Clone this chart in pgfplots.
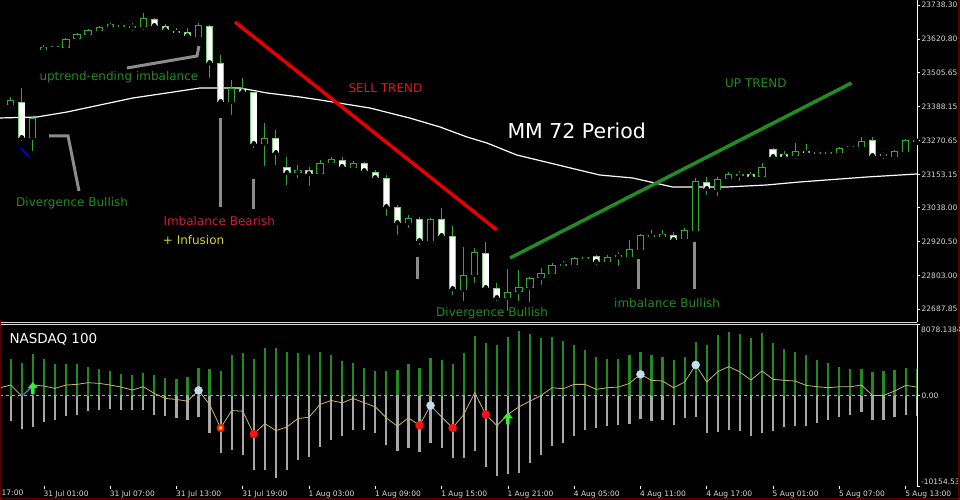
\documentclass[border=0pt]{standalone}
\usepackage{pgfplots}
\usepackage{pgfplotstable}
\pgfplotsset{compat=1.18}
\usepackage{fontspec}
\setmainfont{DejaVu Sans}

\definecolor{cgreen}{HTML}{34A834}
\definecolor{hgreen}{HTML}{1E8C1E}
\definecolor{hgray}{HTML}{A8A8A8}
\definecolor{sig}{HTML}{C8B46E}
\definecolor{tgreen}{HTML}{238B23}
\definecolor{tred}{HTML}{E01818}
\definecolor{tcrim}{HTML}{D41C3C}
\definecolor{tyel}{HTML}{D4D42A}
\definecolor{lblue}{HTML}{BFDDEF}
\definecolor{dotred}{HTML}{FF1010}
\definecolor{agreen}{HTML}{33EE33}
\definecolor{pgray}{HTML}{8C8C8C}
\definecolor{lbl}{HTML}{D8D8D8}
\definecolor{frame}{HTML}{5A0000}

\pgfdeclareplotmark{uparr}{%
  \pgfpathmoveto{\pgfqpoint{-5pt}{0pt}}%
  \pgfpathlineto{\pgfqpoint{0pt}{6pt}}%
  \pgfpathlineto{\pgfqpoint{5pt}{0pt}}%
  \pgfpathlineto{\pgfqpoint{1.8pt}{0pt}}%
  \pgfpathlineto{\pgfqpoint{1.8pt}{-6pt}}%
  \pgfpathlineto{\pgfqpoint{-1.8pt}{-6pt}}%
  \pgfpathlineto{\pgfqpoint{-1.8pt}{0pt}}%
  \pgfpathclose
  \pgfusepathqfill}

% bullish candles (hollow): index open high low close
\pgfplotstableread{
i o h l c
0 23392.8 23420.4 23385.9 23410.1
2 23278.8 23347.9 23226.9 23347.9
3 23582.8 23600.1 23575.9 23593.2
4 23592.0 23603.6 23582.8 23595.0
5 23589.7 23624.3 23575.9 23620.8
6 23620.8 23641.6 23610.5 23638.1
7 23634.7 23655.4 23631.2 23651.9
8 23648.5 23665.8 23641.6 23662.3
9 23662.3 23676.1 23648.5 23672.7
10 23664.0 23676.1 23651.9 23668.0
11 23660.5 23676.1 23641.6 23664.5
12 23662.3 23710.7 23645.0 23693.4
17 23627.8 23676.1 23620.8 23669.2
20 23403.2 23479.2 23351.3 23451.5
23 23258.0 23330.6 23175.1 23278.8
26 23157.8 23185.5 23133.6 23168.2
28 23154.4 23202.7 23144.0 23192.4
29 23192.4 23213.1 23185.5 23206.2
31 23175.1 23199.3 23164.7 23192.4
36 22985.1 23012.7 22960.9 23002.3
38 22922.8 23002.3 22919.4 22998.9
41 22753.5 22902.1 22708.6 22805.4
42 22805.4 22898.7 22770.8 22884.8
45 22725.9 22826.1 22674.1 22746.6
46 22746.6 22822.6 22708.6 22763.9
47 22760.4 22798.5 22705.2 22795.0
48 22795.0 22829.6 22763.9 22812.3
49 22808.8 22846.8 22801.9 22839.9
50 22838.0 22853.7 22822.6 22842.0
51 22839.9 22867.6 22833.0 22864.1
52 22860.7 22871.0 22850.3 22867.6
54 22850.3 22874.5 22843.4 22867.6
55 22867.6 22884.8 22829.6 22874.5
56 22867.6 22926.3 22857.2 22895.2
57 22891.8 22947.0 22888.3 22943.6
58 22938.0 22960.9 22936.7 22942.0
59 22936.7 22960.9 22933.2 22947.0
61 22929.8 22967.8 22915.9 22960.9
62 22957.4 23140.5 22954.0 23130.2
64 23099.1 23144.0 23071.4 23137.1
65 23137.1 23161.3 23126.7 23154.4
66 23149.0 23164.7 23123.3 23153.0
68 23144.0 23192.4 23133.6 23178.6
71 23216.6 23261.5 23199.3 23233.8
73 23225.0 23237.3 23216.6 23229.0
74 23225.0 23237.3 23213.1 23229.0
75 23226.9 23247.7 23220.0 23244.2
76 23246.0 23254.6 23240.8 23250.0
77 23247.7 23282.2 23244.2 23268.4
79 23218.0 23230.4 23199.3 23222.0
80 23213.1 23237.3 23209.6 23233.8
81 23230.4 23275.3 23230.4 23271.8
82 23266.4 23275.3 23261.5 23270.4
}\bull

% bearish candles (white): index open high low close
\pgfplotstableread{
i o h l c
1 23403.2 23451.5 23261.5 23278.8
13 23690.0 23693.4 23662.3 23665.8
14 23665.8 23672.7 23645.0 23651.9
15 23648.5 23658.8 23634.7 23641.6
16 23645.0 23658.8 23620.8 23631.2
18 23665.8 23669.2 23479.2 23537.9
19 23537.9 23565.6 23399.7 23403.2
21 23451.5 23486.1 23427.3 23437.7
22 23437.7 23437.7 23237.3 23258.0
24 23278.8 23306.4 23178.6 23226.9
25 23178.6 23213.1 23109.4 23157.8
27 23168.2 23178.6 23106.0 23154.4
30 23202.7 23213.1 23175.1 23178.6
32 23192.4 23195.8 23161.3 23164.7
33 23161.3 23168.2 23126.7 23140.5
34 23140.5 23150.9 23002.3 23040.3
35 23040.3 23047.2 22936.7 22985.1
37 22998.9 23005.8 22902.1 22922.8
39 22998.9 23036.9 22933.2 22940.1
40 22940.1 22974.7 22729.4 22757.0
43 22881.4 22919.4 22753.5 22760.4
44 22760.4 22777.7 22708.6 22725.9
53 22871.0 22874.5 22833.0 22850.3
60 22943.6 22954.0 22915.9 22926.3
63 23126.7 23144.0 23074.9 23102.5
67 23154.4 23161.3 23140.5 23144.0
69 23240.8 23244.2 23202.7 23213.1
70 23223.5 23233.8 23199.3 23213.1
72 23233.8 23258.0 23223.5 23226.9
78 23271.8 23282.2 23213.1 23216.6
}\bear

% indicator: index, green (up) bar, gray (down) bar, signal line
\pgfplotstableread{
i g r s
0 4114 -2868 1208
1 3661 -3736 -38
2 4680 -3510 1208
3 4114 -2981 1094
4 3548 -2755 830
5 3623 -2302 1208
6 3548 -2113 1283
7 3246 -1736 1472
8 3057 -1547 1396
9 2793 -1472 1208
10 2491 -1547 981
11 2340 -1623 642
12 2604 -1547 1019
13 2302 -2113 264
14 2038 -2227 -302
15 1925 -2491 -415
16 2113 -2755 -604
17 3095 -2415 604
18 3057 -4189 -981
19 2793 -6454 -3623
20 4567 -6152 -1660
21 4793 -6642 -1736
22 4114 -8341 -4302
23 5321 -8341 -3132
24 5359 -9284 -3925
25 4982 -8341 -3510
26 4868 -7208 -2566
27 4567 -6906 -2415
28 4944 -5812 -981
29 4567 -5019 -528
30 3925 -4567 -793
31 3661 -3887 -302
32 3095 -3812 -793
33 2793 -4189 -1245
34 2793 -5510 -2491
35 2906 -6265 -3434
36 3548 -5887 -2491
37 3095 -6340 -3321
38 4227 -5321 -1094
39 4000 -5887 -2378
40 3623 -7020 -3623
41 4793 -7020 -2113
42 6680 -6265 340
43 5925 -7963 -2113
44 5736 -9020 -3359
45 6567 -8793 -2113
46 7246 -8642 -1245
47 6944 -7586 -604
48 6491 -6642 38
49 6567 -5699 906
50 6114 -5321 793
51 5736 -4567 1283
52 5170 -3887 1283
53 4416 -3623 717
54 4189 -3359 906
55 4189 -3246 981
56 4567 -3132 1396
57 4982 -2604 2415
58 4567 -2868 1736
59 4416 -2755 1660
60 4038 -3246 906
61 4416 -2491 1547
62 6001 -2378 3472
63 5736 -4189 1547
64 6831 -4114 2717
65 7208 -3887 3283
66 6944 -4000 2680
67 6454 -4567 1774
68 7057 -4189 2793
69 5925 -4000 1849
70 5246 -3510 1736
71 4982 -3359 1660
72 4567 -3359 1170
73 4038 -3057 1019
74 3661 -2755 906
75 3283 -2378 1019
76 3057 -2113 1019
77 3057 -1849 1208
78 2717 -2680 38
79 2793 -2755 38
80 2868 -2378 528
81 3170 -2113 1170
82 3057 -2227 981
}\hist

\begin{document}
\begin{tikzpicture}
\fill[black] (0pt,0pt) rectangle (960pt,500pt);
\useasboundingbox (0pt,0pt) rectangle (960pt,500pt);

% ---------------- price panel ----------------
\begin{axis}[
  at={(0pt,500pt)}, anchor=north west, scale only axis,
  width=917pt, height=322pt,
  xmin=-0.97, xmax=82.03, ymin=22642.9, ymax=23755.6,
  scaled ticks=false,
  separate axis lines,
  axis x line*=bottom, axis y line*=right,
  x axis line style={draw=lbl, line width=0.8pt},
  y axis line style={draw=white, line width=0.8pt},
  xtick=\empty,
  ytick={22687.85,22803.00,22920.50,23038.00,23153.15,23270.65,23388.15,23505.65,23620.80,23738.30},
  yticklabels={22687.85,22803.00,22920.50,23038.00,23153.15,23270.65,23388.15,23505.65,23620.80,23738.30},
  tick align=outside, major tick length=3pt,
  ytick style={draw=white, line width=0.6pt},
  yticklabel style={font=\fontsize{7.5}{9}\selectfont, text=lbl, anchor=west, inner sep=0pt, xshift=1.5pt},
]
% moving average 72
\addplot[white, line width=1.2pt] coordinates {
(-0.97,23347.9) (2.38,23351.3) (5.1,23368.6) (8.08,23392.8) (11.07,23417.0)
(14.14,23434.3) (17.13,23451.5) (20.75,23451.5) (23.2,23434.3) (26.18,23420.4)
(28.0,23410.1) (32.5,23382.4) (36.1,23347.9) (38.85,23316.8) (41.3,23282.2)
(43.1,23261.5) (45.8,23220.0) (50.3,23178.5) (53.3,23150.9) (56.3,23140.5)
(59.9,23109.4) (64.8,23109.4) (68.4,23116.3) (71.4,23126.7) (77.5,23144.0)
(82.03,23154.4)};
% annotation pointers
\addplot[pgray, line width=3pt] coordinates {(10.52,23520.6) (16.86,23562.1) (17.04,23596.7)};
\addplot[pgray, line width=3pt] coordinates {(3.47,23285.7) (5.19,23285.7) (6.18,23095.6)};
\addplot[pgray, line width=3pt] coordinates {(18.96,23347.9) (18.96,23040.3)};
\addplot[pgray, line width=3pt] coordinates {(22.02,23137.1) (22.02,23033.4)};
\addplot[pgray, line width=3pt] coordinates {(36.86,22867.6) (36.86,22791.5)};
\addplot[pgray, line width=3pt] coordinates {(56.86,22860.7) (56.86,22757.0)};
\addplot[pgray, line width=3pt] coordinates {(61.93,22919.4) (61.93,22757.0)};
\addplot[blue, line width=1.5pt] coordinates {(0.93,23244.2) (1.66,23213.1)};
% trend lines
\addplot[color=red!90!black, line width=3.5pt] coordinates {(20.3,23679.6) (44.0,22960.9)};
\addplot[color=tgreen, line width=3.5pt] coordinates {(45.2,22864.1) (76.1,23468.8)};
% wicks
\addplot[only marks, mark=none, error bars/.cd, y dir=plus, y explicit, error mark=none,
  error bar style={line width=1pt, cgreen}]
  table[x=i, y=l, y error plus expr={\thisrow{h}-\thisrow{l}}] {\bull};
\addplot[only marks, mark=none, error bars/.cd, y dir=plus, y explicit, error mark=none,
  error bar style={line width=1pt, cgreen}]
  table[x=i, y=l, y error plus expr={\thisrow{h}-\thisrow{l}}] {\bear};
% bodies: outline
\addplot[only marks, mark=none, error bars/.cd, y dir=plus, y explicit, error mark=none,
  error bar style={line width=7.2pt, cgreen}]
  table[x=i, y=o, y error plus expr={\thisrow{c}-\thisrow{o}}] {\bull};
\addplot[only marks, mark=none, error bars/.cd, y dir=plus, y explicit, error mark=none,
  error bar style={line width=7.2pt, cgreen!60!white}]
  table[x=i, y=c, y error plus expr={\thisrow{o}-\thisrow{c}}] {\bear};
% bodies: fill
\addplot[only marks, mark=none, error bars/.cd, y dir=plus, y explicit, error mark=none,
  error bar style={line width=5.2pt, black}]
  table[x=i, y expr={\thisrow{o}+3.2}, y error plus expr={max(\thisrow{c}-\thisrow{o}-6.4,0)}] {\bull};
\addplot[only marks, mark=none, error bars/.cd, y dir=plus, y explicit, error mark=none,
  error bar style={line width=5.6pt, white}]
  table[x=i, y expr={\thisrow{c}+2.4}, y error plus expr={max(\thisrow{o}-\thisrow{c}-4.8,0)}] {\bear};
\end{axis}

% ---------------- indicator panel ----------------
\begin{axis}[
  at={(0pt,176pt)}, anchor=north west, scale only axis,
  width=917pt, height=162pt,
  xmin=-0.97, xmax=82.03, ymin=-10154.53, ymax=8078.1384,
  scaled ticks=false,
  separate axis lines,
  axis x line*=bottom, axis y line*=right,
  x axis line style={draw=none},
  y axis line style={draw=white, line width=0.8pt},
  xtick={3,9,15,21,27,33,39,45,51,57,63,69,75,81},
  xticklabels={31 Jul 01:00,31 Jul 07:00,31 Jul 13:00,31 Jul 19:00,1 Aug 03:00,1 Aug 09:00,1 Aug 15:00,1 Aug 21:00,4 Aug 05:00,4 Aug 11:00,4 Aug 17:00,5 Aug 01:00,5 Aug 07:00,5 Aug 13:00},
  ytick={-10154.53,0,8078.1384},
  yticklabels={,0.00,},
  tick align=outside, major tick length=3pt,
  tick style={draw=white, line width=0.6pt},
  yticklabel style={font=\fontsize{7.5}{9}\selectfont, text=lbl, anchor=west, inner sep=0pt, xshift=1.5pt},
  xticklabel style={font=\fontsize{7.5}{9}\selectfont, text=lbl, anchor=north west, inner sep=0pt, xshift=-0.5pt, yshift=-2pt},
]
\addplot[ycomb, hgreen, line width=2.2pt, mark=none] table[x=i, y=g] {\hist};
\addplot[ycomb, hgray, line width=2.2pt, mark=none] table[x=i, y=r] {\hist};
\addplot[color=hgray, line width=0.7pt, dash pattern=on 3pt off 3pt] coordinates {(-0.97,0) (82.03,0)};
\addplot[sig, line width=0.8pt] coordinates {(-0.97,906) (0,1208)};
\addplot[sig, line width=0.8pt] table[x=i, y=s] {\hist};
\addplot[color=cyan!60!blue, line width=1.2pt] coordinates {(1,-38) (1.85,900)};
\addplot[only marks, mark=*, mark size=4pt, mark options={fill=lblue, draw=lblue}]
  coordinates {(17,604) (38,-1094) (57,2415) (62,3472)};
\addplot[only marks, mark=*, mark size=4pt, mark options={fill=dotred, draw=dotred}]
  coordinates {(22,-4302) (37,-3321) (40,-3623) (43,-2113)};
\addplot[only marks, mark=*, mark size=3pt, mark options={fill=yellow!80!orange, draw=dotred, line width=2pt}]
  coordinates {(19,-3623)};
\addplot[only marks, mark=uparr, mark options={fill=agreen, draw=none}]
  coordinates {(2,877) (45,-2531)};
\end{axis}

% separator line at top of indicator panel
\draw[lbl, line width=0.8pt] (0pt,175.5pt) -- (917pt,175.5pt);

% scale extremes of the indicator panel
\node[anchor=north west, inner sep=0pt, text=lbl, font=\fontsize{7.5}{9}\selectfont] at (921pt,173.5pt) {8078.1384};
\node[anchor=south west, inner sep=0pt, text=lbl, font=\fontsize{7.5}{9}\selectfont] at (921pt,15.5pt) {-10154.53};
\node[anchor=north west, inner sep=0pt, text=lbl, font=\fontsize{7.5}{9}\selectfont] at (1.5pt,10pt) {17:00};

% annotations
\node[anchor=base west, inner sep=0pt, text=tgreen, font=\fontsize{12}{14}\selectfont] at (39.3pt,419pt) {uptrend-ending imbalance};
\node[anchor=base west, inner sep=0pt, text=tred, font=\fontsize{12}{14}\selectfont] at (348.3pt,407.3pt) {SELL TREND};
\node[anchor=base west, inner sep=0pt, text=white, font=\fontsize{20.5}{24}\selectfont] at (507.3pt,361.7pt) {MM 72 Period};
\node[anchor=base west, inner sep=0pt, text=tgreen, font=\fontsize{12}{14}\selectfont] at (725pt,412.7pt) {UP TREND};
\node[anchor=base west, inner sep=0pt, text=tgreen, font=\fontsize{12}{14}\selectfont] at (16pt,293.3pt) {Divergence Bullish};
\node[anchor=base west, inner sep=0pt, text=tcrim, font=\fontsize{12}{14}\selectfont] at (163.3pt,274.7pt) {Imbalance Bearish};
\node[anchor=base west, inner sep=0pt, text=tyel, font=\fontsize{12}{14}\selectfont] at (162.7pt,255pt) {+ Infusion};
\node[anchor=base west, inner sep=0pt, text=tgreen, font=\fontsize{12}{14}\selectfont] at (436pt,183.3pt) {Divergence Bullish};
\node[anchor=base west, inner sep=0pt, text=tgreen, font=\fontsize{12}{14}\selectfont] at (614pt,192.3pt) {imbalance Bullish};
\node[anchor=base west, inner sep=0pt, text=white, font=\fontsize{13.5}{16}\selectfont] at (9.3pt,156.7pt) {NASDAQ 100};

% outer frame
\draw[frame, line width=1.2pt] (958.6pt,0pt) -- (958.6pt,500pt);
\draw[frame, line width=1.2pt] (0pt,1.4pt) -- (960pt,1.4pt);
\draw[frame, line width=1pt] (0.5pt,0pt) -- (0.5pt,180pt);
\end{tikzpicture}
\end{document}
